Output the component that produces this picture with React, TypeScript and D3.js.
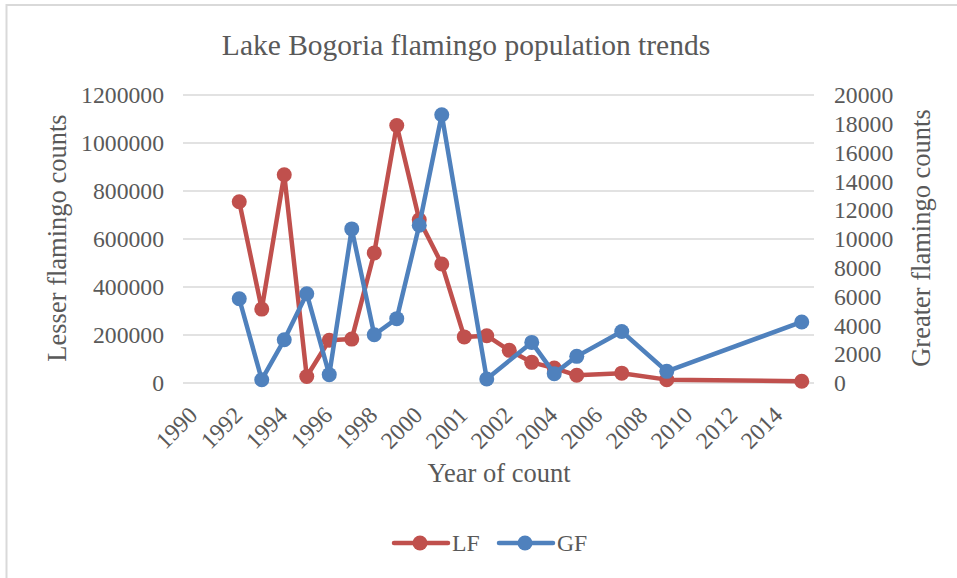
import React from "react";
import * as d3 from "d3";

// Category slots of the Excel category axis (labels shown every 2nd slot)
const categories = [
  "1990", "1991", "1992", "1993", "1994", "1995", "1996", "1997", "1998", "1999",
  "2000", "2000", "2001", "2001", "2002", "2003", "2004", "2005", "2006", "2007",
  "2008", "2009", "2010", "2011", "2012", "2013", "2014", "2015",
];

// Lesser flamingo counts (left axis), null = no count
const lfCounts: (number | null)[] = [
  null, null, 755000, 308000, 868000, 27000, 178000, 183000, 542000, 1073000,
  680000, 496000, 192000, 197000, 136000, 86000, 62000, 32000, null, 41000,
  null, 14000, null, null, null, null, null, 7000,
];

// Greater flamingo counts (right axis)
const gfCounts: (number | null)[] = [
  null, null, 5850, 230, 3000, 6200, 580, 10700, 3350, 4470,
  10950, 18630, null, 280, null, 2820, 650, 1850, null, 3580,
  null, 810, null, null, null, null, null, 4240,
];

const leftTicks = [0, 200000, 400000, 600000, 800000, 1000000, 1200000];
const rightTicks = [0, 2000, 4000, 6000, 8000, 10000, 12000, 14000, 16000, 18000, 20000];

const W = 957;
const H = 578;
const plot = { left: 183, right: 813, top: 95, bottom: 383 };

const RED = "#C0504D";
const BLUE = "#4F81BD";
const TEXT = "#595959";
const GRID = "#D9D9D9";
const FONT = "'Liberation Serif', 'Times New Roman', serif";

export default function App() {
  const idx = d3.range(categories.length);
  const x = d3.scaleBand<number>().domain(idx).range([plot.left, plot.right]);
  const cx = (i: number) => (x(i) as number) + x.bandwidth() / 2;
  const yL = d3.scaleLinear().domain([0, 1200000]).range([plot.bottom, plot.top]);
  const yR = d3.scaleLinear().domain([0, 20000]).range([plot.bottom, plot.top]);

  const lfPts = idx.filter((i) => lfCounts[i] != null).map((i) => [cx(i), yL(lfCounts[i] as number)] as [number, number]);
  const gfPts = idx.filter((i) => gfCounts[i] != null).map((i) => [cx(i), yR(gfCounts[i] as number)] as [number, number]);
  const line = d3.line();

  const labelIdx = idx.filter((i) => i % 2 === 0);

  return (
    <svg width={W} height={H} style={{ position: "absolute", left: 0, top: 0, background: "#fff" }} fontFamily={FONT}>
      <rect x={0} y={0} width={W} height={H} fill="#fff" />
      <rect x={6.5} y={5} width={W + 10} height={H + 10} fill="none" stroke={GRID} strokeWidth={2} />
      <text x={466} y={55} textAnchor="middle" fontSize={29.5} fill={TEXT}>
        Lake Bogoria flamingo population trends
      </text>
      {leftTicks.map((t) => (
        <line key={"g" + t} x1={plot.left} x2={plot.right + 1} y1={yL(t)} y2={yL(t)} stroke={GRID} strokeWidth={1.3} />
      ))}
      {leftTicks.map((t) => (
        <text key={"l" + t} x={164} y={yL(t)} dy="0.35em" textAnchor="end" fontSize={23.7} fill={TEXT}>
          {t}
        </text>
      ))}
      {rightTicks.map((t) => (
        <text key={"r" + t} x={834} y={yR(t)} dy="0.35em" textAnchor="start" fontSize={23.7} fill={TEXT}>
          {t}
        </text>
      ))}
      {labelIdx.map((i) => (
        <text
          key={"x" + i}
          transform={`translate(${cx(i) - 1},${411}) rotate(-45)`}
          textAnchor="end"
          dominantBaseline="central"
          fontSize={23.7}
          fill={TEXT}
        >
          {categories[i]}
        </text>
      ))}
      <text x={499} y={482} textAnchor="middle" fontSize={26.5} fill={TEXT}>
        Year of count
      </text>
      <text transform={`translate(66,238) rotate(-90)`} textAnchor="middle" fontSize={26.5} fill={TEXT}>
        Lesser flamingo counts
      </text>
      <text transform={`translate(930,238) rotate(-90)`} textAnchor="middle" fontSize={26.5} fill={TEXT}>
        Greater flamingo counts
      </text>

      <path d={line(lfPts) || ""} fill="none" stroke={RED} strokeWidth={4.5} strokeLinejoin="round" strokeLinecap="round" />
      {lfPts.map((p, k) => (
        <circle key={"lf" + k} cx={p[0]} cy={p[1]} r={7.5} fill={RED} />
      ))}
      <path d={line(gfPts) || ""} fill="none" stroke={BLUE} strokeWidth={4.5} strokeLinejoin="round" strokeLinecap="round" />
      {gfPts.map((p, k) => (
        <circle key={"gf" + k} cx={p[0]} cy={p[1]} r={7.5} fill={BLUE} />
      ))}

      <g>
        <line x1={394} x2={448} y1={543} y2={543} stroke={RED} strokeWidth={4.5} strokeLinecap="round" />
        <circle cx={420} cy={543} r={7.5} fill={RED} />
        <text x={452} y={543} dy="0.35em" fontSize={23.7} fill={TEXT}>LF</text>
        <line x1={499} x2={553} y1={543} y2={543} stroke={BLUE} strokeWidth={4.5} strokeLinecap="round" />
        <circle cx={525} cy={543} r={7.5} fill={BLUE} />
        <text x={557} y={543} dy="0.35em" fontSize={23.7} fill={TEXT}>GF</text>
      </g>
    </svg>
  );
}
